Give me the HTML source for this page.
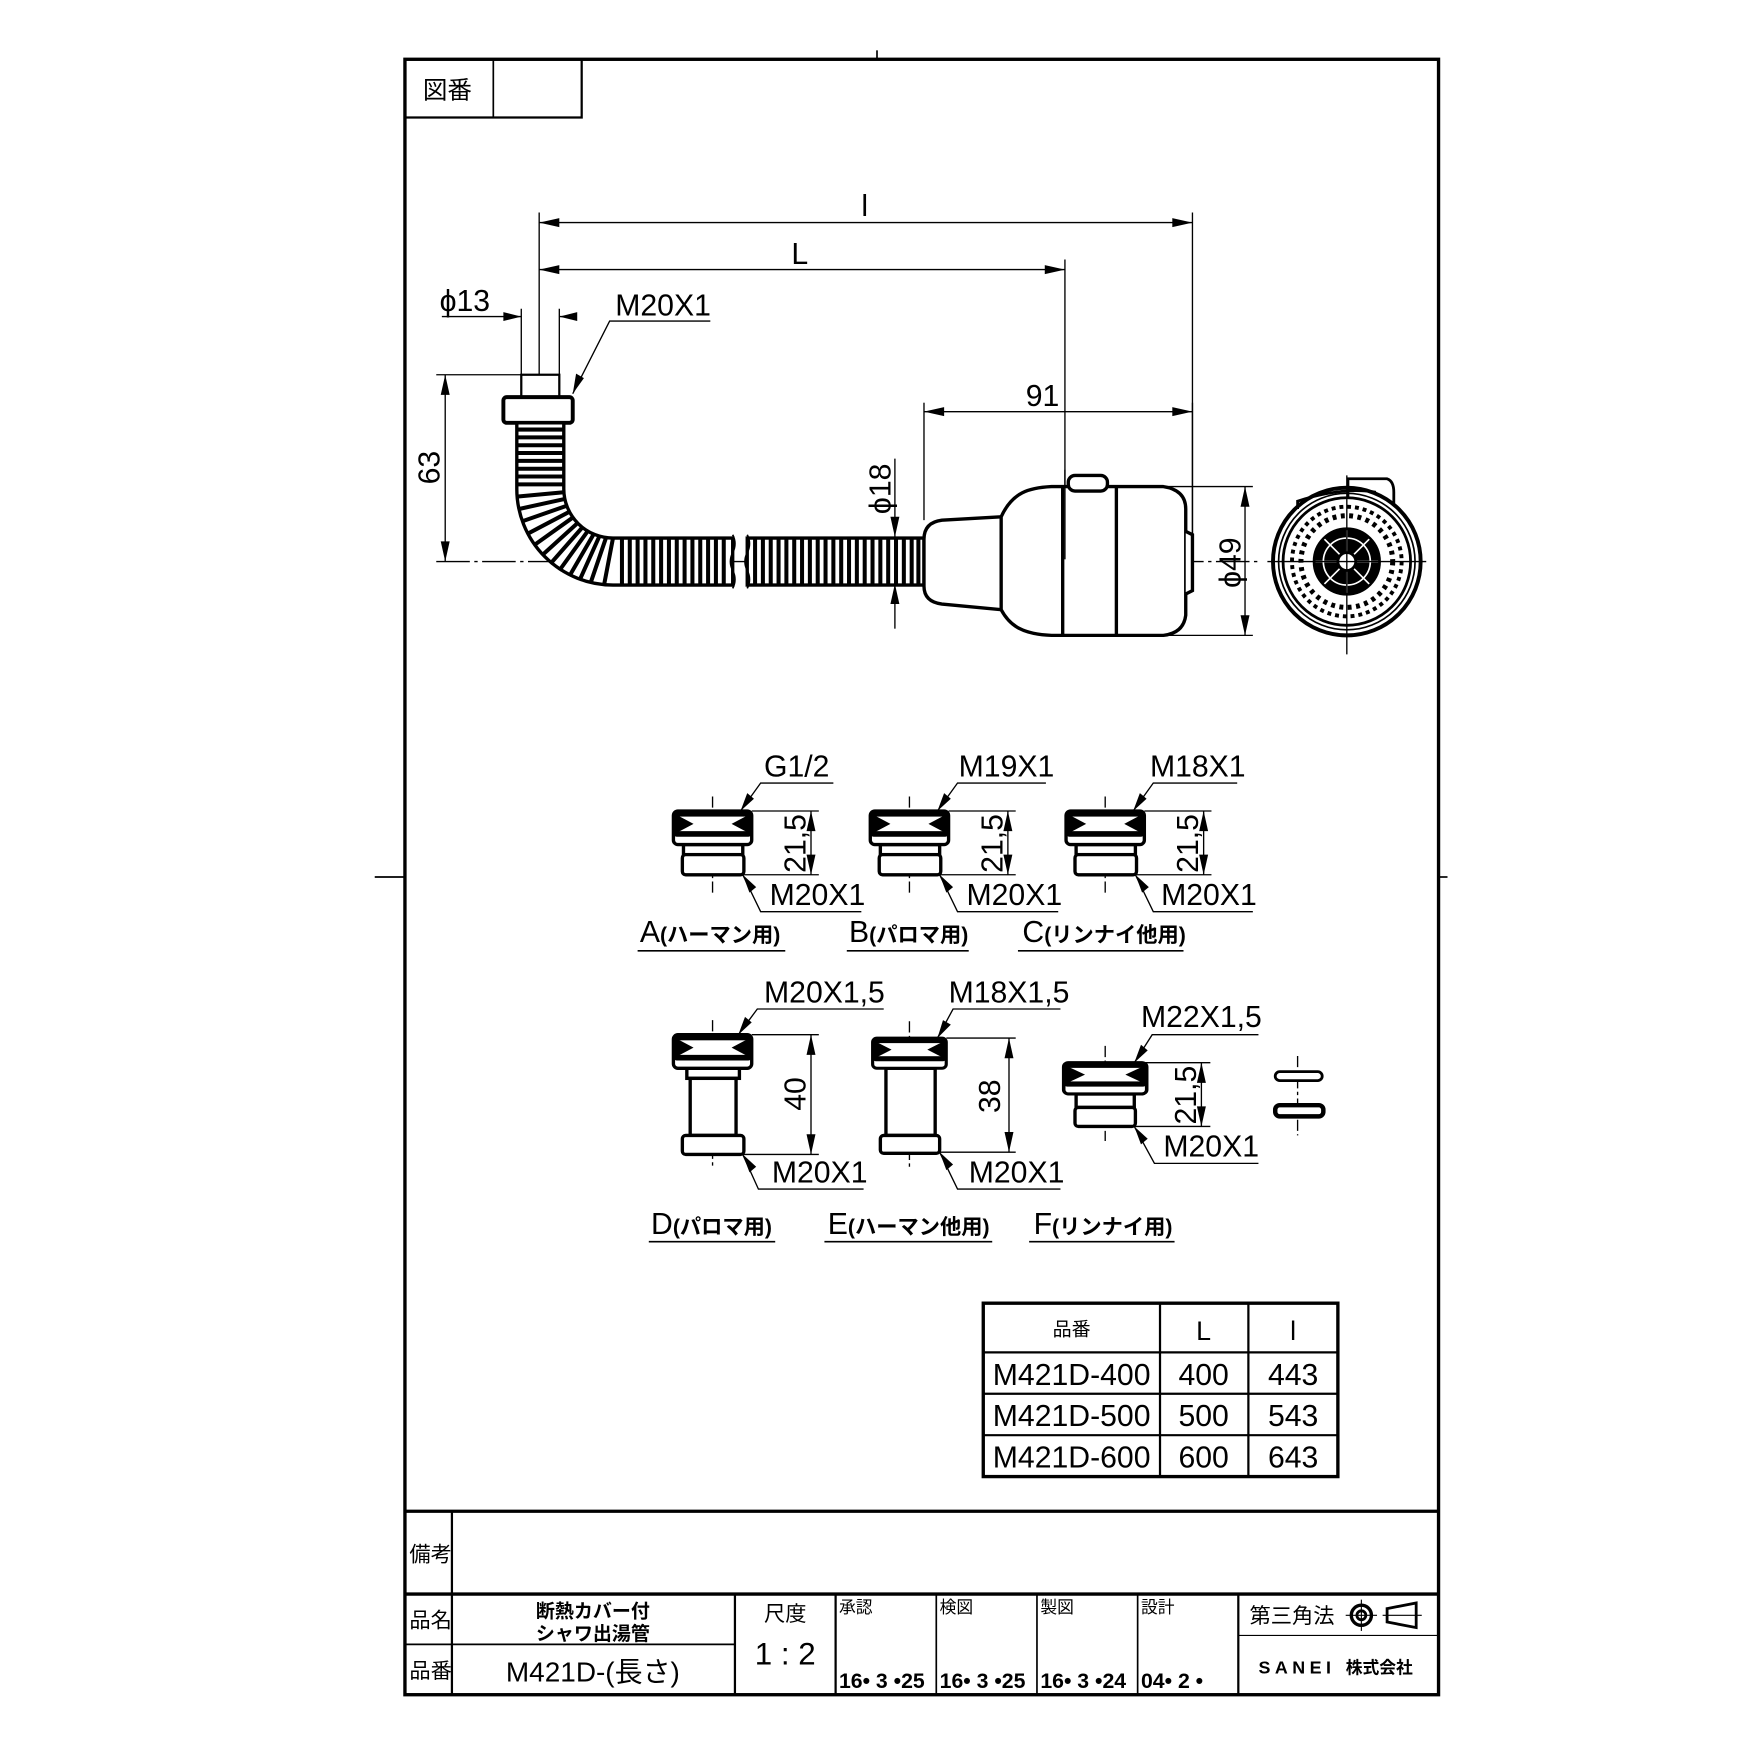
<!DOCTYPE html>
<html><head><meta charset="utf-8"><style>
html,body{margin:0;padding:0;background:#fff}
svg{display:block}
text{font-family:"Liberation Sans","Noto Sans CJK JP",sans-serif;fill:#000}
</style></head><body>
<svg width="1754" height="1754" viewBox="0 0 1568 1568" xmlns="http://www.w3.org/2000/svg">
<defs>
<g id="nut">
 <rect x="-35" y="0" width="70" height="30" rx="4" fill="#fff" stroke="#000" stroke-width="3"/>
 <rect x="-35" y="0" width="70" height="23" rx="3" fill="#000"/>
 <rect x="-30" y="5" width="60" height="13" fill="#fff"/>
 <polygon points="-33,3 -33,20 -17,11.5" fill="#000"/>
 <polygon points="33,3 33,20 17,11.5" fill="#000"/>
</g>
</defs>
<g fill="none" stroke="#000">
 <rect x="362" y="53" width="924" height="1462" stroke-width="3"/>
 <polyline points="362,105 520,105 520,53" stroke-width="2"/>
 <line x1="441" y1="53" x2="441" y2="105" stroke-width="1.5"/>
 <line x1="784" y1="45" x2="784" y2="53" stroke-width="1.5"/>
 <line x1="335" y1="784" x2="362" y2="784" stroke-width="1.5"/>
 <line x1="1286" y1="784" x2="1294" y2="784" stroke-width="1.5"/>
 <line x1="362" y1="1351" x2="1286" y2="1351" stroke-width="3"/>
 <line x1="362" y1="1425" x2="1286" y2="1425" stroke-width="3"/>
 <line x1="404" y1="1351" x2="404" y2="1515" stroke-width="2"/>
 <line x1="404" y1="1470" x2="657" y2="1470" stroke-width="1.5"/>
 <line x1="362" y1="1470" x2="404" y2="1470" stroke-width="1.5"/>
 <line x1="657" y1="1425" x2="657" y2="1515" stroke-width="2"/>
 <line x1="747" y1="1425" x2="747" y2="1515" stroke-width="2"/>
 <line x1="837" y1="1425" x2="837" y2="1515" stroke-width="1.5"/>
 <line x1="927" y1="1425" x2="927" y2="1515" stroke-width="1.5"/>
 <line x1="1017" y1="1425" x2="1017" y2="1515" stroke-width="1.5"/>
 <line x1="1107" y1="1425" x2="1107" y2="1515" stroke-width="2"/>
 <line x1="1107" y1="1462" x2="1286" y2="1462" stroke-width="1"/>
 <rect x="879" y="1165" width="317" height="155" stroke-width="3"/>
 <line x1="1037" y1="1165" x2="1037" y2="1320" stroke-width="2"/>
 <line x1="1116" y1="1165" x2="1116" y2="1320" stroke-width="2"/>
 <line x1="879" y1="1209" x2="1196" y2="1209" stroke-width="2"/>
 <line x1="879" y1="1246" x2="1196" y2="1246" stroke-width="2"/>
 <line x1="879" y1="1283" x2="1196" y2="1283" stroke-width="2"/>
</g>
<g font-size="22">
 <text x="378" y="88">図番</text>
 <text x="366" y="1396" font-size="19">備考</text>
 <text x="366" y="1455" font-size="19">品名</text>
 <text x="366" y="1500" font-size="19">品番</text>
 <text x="530" y="1446" font-size="17" font-weight="bold" text-anchor="middle">断熱カバー付</text>
 <text x="530" y="1466" font-size="17" font-weight="bold" text-anchor="middle">シャワ出湯管</text>
 <text x="530" y="1503" font-size="25" text-anchor="middle">M421D-(長さ)</text>
 <text x="702" y="1449" font-size="19" text-anchor="middle">尺度</text>
 <text x="702" y="1488" font-size="28" text-anchor="middle">1 : 2</text>
 <text x="750" y="1442" font-size="15">承認</text>
 <text x="840" y="1442" font-size="15">検図</text>
 <text x="930" y="1442" font-size="15">製図</text>
 <text x="1020" y="1442" font-size="15">設計</text>
 <text x="750" y="1509" font-size="19" font-weight="bold">16• 3 •25</text>
 <text x="840" y="1509" font-size="19" font-weight="bold">16• 3 •25</text>
 <text x="930" y="1509" font-size="19" font-weight="bold">16• 3 •24</text>
 <text x="1020" y="1509" font-size="19" font-weight="bold">04• 2 •</text>
 <text x="1117" y="1451" font-size="19">第三角法</text>
 <text x="1125" y="1496" font-size="16" font-weight="bold" letter-spacing="4">SANEI</text>
 <text x="1203" y="1496" font-size="15" font-weight="bold">株式会社</text>
</g>
<g fill="none" stroke="#000">
 <circle cx="1217" cy="1444" r="9" stroke-width="3"/><circle cx="1217" cy="1444" r="4" stroke-width="2.5"/>
 <line x1="1203" y1="1444" x2="1231" y2="1444" stroke-width="1"/><line x1="1217" y1="1430" x2="1217" y2="1458" stroke-width="1"/>
 <polygon points="1240,1438 1266,1433 1266,1455 1240,1450" stroke-width="2.5"/>
 <line x1="1236" y1="1444" x2="1271" y2="1444" stroke-width="1"/>
</g>
<g font-size="27" text-anchor="middle">
 <text x="958" y="1194" font-size="17">品番</text>
 <text x="1076" y="1198" font-size="24" fill="#555">L</text>
 <text x="1156" y="1198" font-size="24" fill="#555">l</text>
 <text x="958" y="1238">M421D-400</text><text x="1076" y="1238">400</text><text x="1156" y="1238">443</text>
 <text x="958" y="1275">M421D-500</text><text x="1076" y="1275">500</text><text x="1156" y="1275">543</text>
 <text x="958" y="1312">M421D-600</text><text x="1076" y="1312">600</text><text x="1156" y="1312">643</text>
</g>

<g stroke="#000" fill="none">
 <g stroke-width="1.2">
  <line x1="482" y1="190" x2="482" y2="335"/>
  <line x1="1066" y1="190" x2="1066" y2="500"/>
  <line x1="952" y1="232" x2="952" y2="500"/>
  <line x1="482" y1="199" x2="1066" y2="199"/>
  <line x1="482" y1="241" x2="952" y2="241"/>
  <line x1="466" y1="276" x2="466" y2="355"/><line x1="500" y1="276" x2="500" y2="335"/>
  <line x1="395" y1="283" x2="466" y2="283"/><line x1="500" y1="283" x2="515" y2="283"/>
  <polyline points="635,287 545,287 512,352"/>
  <line x1="390" y1="335" x2="466" y2="335"/>
  <line x1="390" y1="502" x2="1125" y2="502" stroke-dasharray="30,4,3,4"/>
  <line x1="398" y1="335" x2="398" y2="502"/>
  <line x1="826" y1="360" x2="826" y2="465"/>
  <line x1="826" y1="368" x2="1066" y2="368"/>
  <line x1="800" y1="410" x2="800" y2="480"/><line x1="800" y1="522" x2="800" y2="562"/>
  <line x1="1040" y1="435" x2="1120" y2="435"/><line x1="1040" y1="568" x2="1120" y2="568"/>
  <line x1="1113" y1="435" x2="1113" y2="568"/>
 </g>
</g>
<g fill="#000">
 <polygon points="482,199 500,195 500,203"/><polygon points="1066,199 1048,195 1048,203"/>
 <polygon points="482,241 500,237 500,245"/><polygon points="952,241 934,237 934,245"/>
 <polygon points="826,368 844,364 844,372"/><polygon points="1066,368 1048,364 1048,372"/>
 <polygon points="398,335 394,353 402,353"/><polygon points="398,502 394,484 402,484"/>
 <polygon points="800,480 796,462 804,462"/><polygon points="800,522 796,540 804,540"/>
 <polygon points="1113,435 1109,453 1117,453"/><polygon points="1113,568 1109,550 1117,550"/>
 <polygon points="466,283 450,279 450,287"/><polygon points="500,283 516,279 516,287"/>
 <polygon points="512,352 515,334 522,338"/>
</g>
<g font-size="27">
 <text x="773" y="193" text-anchor="middle">l</text>
 <text x="715" y="236" text-anchor="middle">L</text>
 <text x="393" y="278">ϕ13</text>
 <text x="550" y="282">M20X1</text>
 <text x="932" y="363" text-anchor="middle">91</text>
 <text transform="translate(393,418) rotate(-90)" text-anchor="middle">63</text>
 <text transform="translate(796,437) rotate(-90)" text-anchor="middle">ϕ18</text>
 <text transform="translate(1109,503) rotate(-90)" text-anchor="middle">ϕ49</text>
</g>
<g stroke="#000" fill="#fff">
 <rect x="466" y="335" width="34" height="20" stroke-width="2"/>
 <rect x="450" y="355" width="62" height="23" rx="3" stroke-width="3.5"/>
 <path d="M462,378 L462,437 A86,86 0 0 0 548,523 L655,523 L655,481 L548,481 A44,44 0 0 1 504,437 L504,378 Z" stroke-width="3"/>
 <rect x="668" y="481" width="158" height="42" stroke-width="3"/>
</g>
<g stroke="#000" stroke-width="3.6">
 <path d="M462,384H504M462,391H504M462,398H504M462,405H504M462,412H504M462,419H504M462,426H504M462,433H504"/>
 <path d="M556,481V523M563,481V523M570,481V523M577,481V523M584,481V523M591,481V523M598,481V523M605,481V523M612,481V523M619,481V523M626,481V523M633,481V523M640,481V523M647,481V523"/>
 <path d="M675,481V523M682,481V523M689,481V523M696,481V523M703,481V523M710,481V523M717,481V523M724,481V523M731,481V523M738,481V523M745,481V523M752,481V523M759,481V523M766,481V523M773,481V523M780,481V523M787,481V523M794,481V523M801,481V523M808,481V523M815,481V523M821,481V523"/>
 <path d="M504,440L462,444M505,446L464,455M507,452L467,466M510,457L472,477M513,462L478,487M517,467L485,496M521,471L492,504M526,474L500,510M531,477L509,515M536,479L518,519M542,480L528,521M548,481L540,523"/>
</g>
<path d="M655,478 q4,8 0,16 q-4,8 0,16 q4,8 0,16 M668,478 q4,8 0,16 q-4,8 0,16 q4,8 0,16" stroke="#000" stroke-width="1.5" fill="none"/>
<g stroke="#000" stroke-width="3" fill="#fff">
 <path d="M895,462 L842,465 Q826,467 826,482 L826,524 Q826,538 842,540 L895,545 Z"/>
 <path d="M895,462 C905,440 920,436 940,435 L1040,435 Q1060,438 1060,455 L1060,550 Q1058,566 1040,568 L940,568 C915,567 903,560 895,545 Z"/>
 <rect x="955" y="425" width="35" height="14" rx="6"/>
 <path d="M1060,475 L1066,478 L1066,528 L1060,531" />
 <line x1="950" y1="435" x2="950" y2="568"/><line x1="998" y1="435" x2="998" y2="568"/>
</g>
<line x1="952" y1="420" x2="952" y2="500" stroke="#000" stroke-width="1.2"/>
<line x1="1066" y1="360" x2="1066" y2="500" stroke="#000" stroke-width="1.2"/>
<g stroke="#000" fill="none">
 <path d="M1205,444 L1205,428 L1240,428 Q1246,430 1246,440 L1246,450" stroke-width="2.5"/>
 <path d="M1160,455 L1160,448 Q1200,435 1230,440" stroke-width="2.5"/>
 <circle cx="1204" cy="502" r="66" stroke-width="3.5"/>
 <circle cx="1204" cy="502" r="61" stroke-width="1.5"/>
 <circle cx="1204" cy="502" r="57" stroke-width="2.5"/>
 <circle cx="1204" cy="502" r="49" stroke-width="3.5" stroke-dasharray="3.5,3.5"/>
 <circle cx="1204" cy="502" r="41" stroke-width="4.5" stroke-dasharray="3.5,4"/>
 <circle cx="1204" cy="502" r="30" fill="#000" stroke-width="1"/>
 <circle cx="1204" cy="502" r="21" stroke="#fff" stroke-width="1.5"/>
 <g stroke="#fff" stroke-width="1.5">
  <line x1="1204" y1="474" x2="1204" y2="530"/><line x1="1176" y1="502" x2="1232" y2="502"/>
  <line x1="1184" y1="482" x2="1224" y2="522"/><line x1="1224" y1="482" x2="1184" y2="522"/>
 </g>
 <circle cx="1204" cy="502" r="8" fill="#fff" stroke-width="2.5"/>
 <line x1="1133" y1="502" x2="1275" y2="502" stroke-width="1.2"/>
 <line x1="1204" y1="425" x2="1204" y2="585" stroke-width="1.2"/>
</g>

<g stroke="#000" fill="none" stroke-width="1.2">
 <line x1="637" y1="712" x2="637" y2="798" stroke-dasharray="10,3,3,3"/>
 <line x1="672" y1="725" x2="732" y2="725"/><line x1="664" y1="782" x2="732" y2="782"/>
 <line x1="725" y1="725" x2="725" y2="782"/>
 <polyline points="745,700 680,700 662,725"/><polyline points="770,815 680,815 664,782"/>
 <line x1="813" y1="712" x2="813" y2="798" stroke-dasharray="10,3,3,3"/>
 <line x1="848" y1="725" x2="908" y2="725"/><line x1="840" y1="782" x2="908" y2="782"/>
 <line x1="901" y1="725" x2="901" y2="782"/>
 <polyline points="935,700 856,700 838,725"/><polyline points="946,815 856,815 840,782"/>
 <line x1="988" y1="712" x2="988" y2="798" stroke-dasharray="10,3,3,3"/>
 <line x1="1023" y1="725" x2="1083" y2="725"/><line x1="1015" y1="782" x2="1083" y2="782"/>
 <line x1="1076" y1="725" x2="1076" y2="782"/>
 <polyline points="1106,700 1031,700 1013,725"/><polyline points="1120,815 1031,815 1015,782"/>
</g>
<g fill="#000">
 <polygon points="725,725 721,743 729,743"/><polygon points="725,782 721,764 729,764"/>
 <polygon points="662,725 668,709 674,714"/><polygon points="664,782 670,798 676,793"/>
 <polygon points="901,725 897,743 905,743"/><polygon points="901,782 897,764 905,764"/>
 <polygon points="838,725 844,709 850,714"/><polygon points="840,782 846,798 852,793"/>
 <polygon points="1076,725 1072,743 1080,743"/><polygon points="1076,782 1072,764 1080,764"/>
 <polygon points="1013,725 1019,709 1025,714"/><polygon points="1015,782 1021,798 1027,793"/>
</g>
<g stroke="#000" stroke-width="3" fill="#fff">
 <rect x="611" y="755" width="53" height="9"/><rect x="610" y="764" width="55" height="18" rx="3"/>
 <rect x="787" y="755" width="53" height="9"/><rect x="786" y="764" width="55" height="18" rx="3"/>
 <rect x="962" y="755" width="53" height="9"/><rect x="961" y="764" width="55" height="18" rx="3"/>
</g>
<use href="#nut" x="637" y="725"/><use href="#nut" x="813" y="725"/><use href="#nut" x="988" y="725"/>
<g font-size="27">
 <text x="683" y="694">G1/2</text>
 <text x="857" y="694">M19X1</text>
 <text x="1028" y="694">M18X1</text>
 <text x="688" y="809">M20X1</text>
 <text x="864" y="809">M20X1</text>
 <text x="1038" y="809">M20X1</text>
 <text transform="translate(720,754) rotate(-90)" text-anchor="middle">21,5</text>
 <text transform="translate(896,754) rotate(-90)" text-anchor="middle">21,5</text>
 <text transform="translate(1071,754) rotate(-90)" text-anchor="middle">21,5</text>
 <text x="572" y="842">A<tspan font-size="19" font-weight="bold">(ハーマン用)</tspan></text>
 <text x="759" y="842">B<tspan font-size="19" font-weight="bold">(パロマ用)</tspan></text>
 <text x="914" y="842">C<tspan font-size="19" font-weight="bold">(リンナイ他用)</tspan></text>
 <text x="582" y="1103">D<tspan font-size="19" font-weight="bold">(パロマ用)</tspan></text>
 <text x="740" y="1103">E<tspan font-size="19" font-weight="bold">(ハーマン他用)</tspan></text>
 <text x="924" y="1103">F<tspan font-size="19" font-weight="bold">(リンナイ用)</tspan></text>
</g>
<g stroke="#000" stroke-width="1.5">
 <line x1="570" y1="850" x2="702" y2="850"/><line x1="757" y1="850" x2="866" y2="850"/><line x1="910" y1="850" x2="1058" y2="850"/>
 <line x1="580" y1="1110" x2="693" y2="1110"/><line x1="737" y1="1110" x2="887" y2="1110"/><line x1="920" y1="1110" x2="1050" y2="1110"/>
</g>

<g stroke="#000" fill="none" stroke-width="1.2">
 <line x1="637" y1="912" x2="637" y2="1045" stroke-dasharray="10,3,3,3"/>
 <line x1="672" y1="925" x2="732" y2="925"/><line x1="664" y1="1032" x2="732" y2="1032"/>
 <line x1="725" y1="925" x2="725" y2="1032"/>
 <polyline points="790,902 677,902 660,925"/><polyline points="772,1063 678,1063 664,1032"/>
 <line x1="813" y1="913" x2="813" y2="1045" stroke-dasharray="10,3,3,3"/>
 <line x1="846" y1="928" x2="908" y2="928"/><line x1="840" y1="1030" x2="908" y2="1030"/>
 <line x1="902" y1="928" x2="902" y2="1030"/>
 <polyline points="948,902 852,902 838,928"/><polyline points="948,1063 856,1063 840,1030"/>
 <line x1="988" y1="935" x2="988" y2="1020" stroke-dasharray="10,3,3,3"/>
 <line x1="1024" y1="950" x2="1082" y2="950"/><line x1="1014" y1="1007" x2="1082" y2="1007"/>
 <line x1="1074" y1="950" x2="1074" y2="1007"/>
 <polyline points="1125,925 1030,925 1014,950"/><polyline points="1125,1040 1032,1040 1014,1007"/>
 <line x1="1160" y1="944" x2="1160" y2="1015" stroke-dasharray="10,3,3,3"/>
</g>
<g fill="#000">
 <polygon points="725,925 721,943 729,943"/><polygon points="725,1032 721,1014 729,1014"/>
 <polygon points="660,925 666,909 672,914"/><polygon points="664,1032 670,1048 676,1043"/>
 <polygon points="902,928 898,946 906,946"/><polygon points="902,1030 898,1012 906,1012"/>
 <polygon points="838,928 843,912 850,916"/><polygon points="840,1030 846,1046 852,1041"/>
 <polygon points="1074,950 1070,968 1078,968"/><polygon points="1074,1007 1070,989 1078,989"/>
 <polygon points="1014,950 1020,934 1026,939"/><polygon points="1014,1007 1020,1023 1026,1018"/>
</g>
<g stroke="#000" stroke-width="3" fill="#fff">
 <rect x="614" y="955" width="47" height="9"/>
 <rect x="617" y="964" width="41" height="51"/>
 <rect x="610" y="1015" width="55" height="17" rx="3"/>
 <rect x="792" y="955" width="44" height="60"/>
 <rect x="787" y="1015" width="53" height="16" rx="3"/>
 <rect x="962" y="978" width="52" height="12"/>
 <rect x="961" y="990" width="54" height="17" rx="3"/>
 <rect x="1140" y="958" width="42" height="8" rx="4" stroke-width="2.5"/>
 <rect x="1140" y="988" width="43" height="10" rx="4" fill="#fff" stroke-width="4"/>
</g>
<use href="#nut" x="637" y="925"/>
<use href="#nut" transform="translate(813,928) scale(0.94,0.9)"/>
<use href="#nut" transform="translate(988,950) scale(1.06,0.93)"/>
<g font-size="27">
 <text x="683" y="896">M20X1,5</text>
 <text x="848" y="896">M18X1,5</text>
 <text x="1020" y="918">M22X1,5</text>
 <text x="690" y="1057">M20X1</text>
 <text x="866" y="1057">M20X1</text>
 <text x="1040" y="1034">M20X1</text>
 <text transform="translate(720,978) rotate(-90)" text-anchor="middle">40</text>
 <text transform="translate(894,980) rotate(-90)" text-anchor="middle">38</text>
 <text transform="translate(1069,979) rotate(-90)" text-anchor="middle">21,5</text>
</g>
</svg>
</body></html>
